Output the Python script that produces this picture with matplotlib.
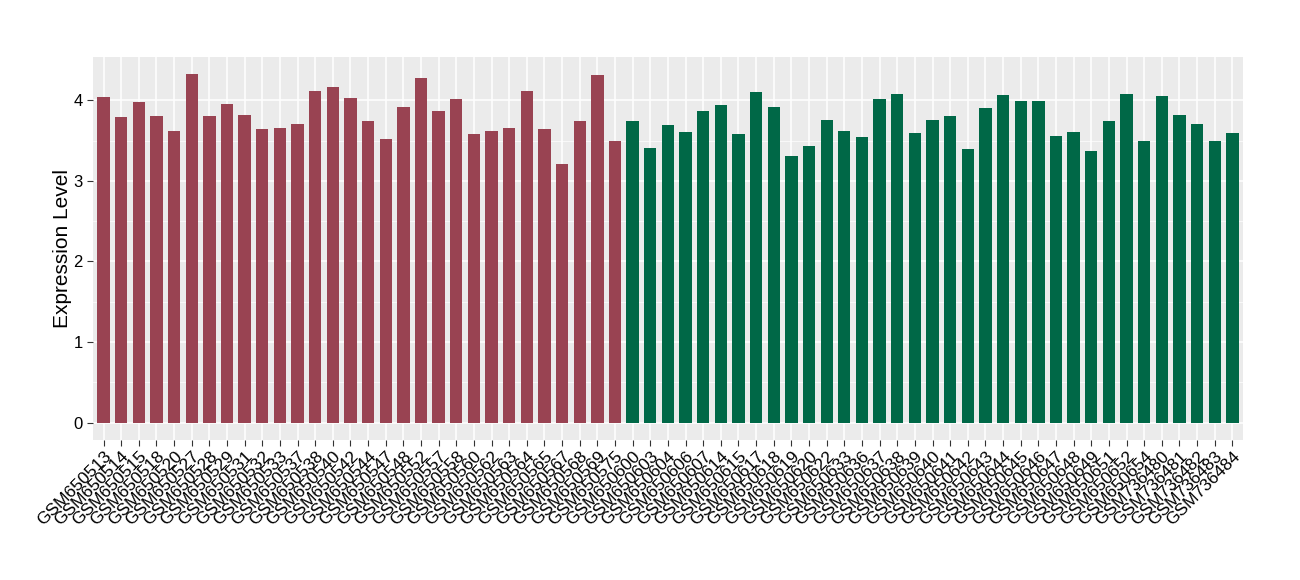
import matplotlib
matplotlib.use("Agg")
import matplotlib.pyplot as plt
import numpy as np

plt.rcParams['font.family'] = ['Liberation Sans', 'DejaVu Sans']

red_labels = ["GSM650513", "GSM650514", "GSM650515", "GSM650518", "GSM650520", "GSM650527",
              "GSM650528", "GSM650529", "GSM650531", "GSM650532", "GSM650533", "GSM650537",
              "GSM650538", "GSM650540", "GSM650542", "GSM650544", "GSM650547", "GSM650548",
              "GSM650552", "GSM650557", "GSM650558", "GSM650560", "GSM650562", "GSM650563",
              "GSM650564", "GSM650565", "GSM650567", "GSM650568", "GSM650569", "GSM650575"]
red_values = [4.04, 3.79, 3.98, 3.80, 3.62, 4.32, 3.80, 3.95, 3.82, 3.64,
              3.66, 3.70, 4.12, 4.17, 4.03, 3.74, 3.52, 3.92, 4.27, 3.86,
              4.01, 3.58, 3.62, 3.66, 4.11, 3.64, 3.21, 3.74, 4.31, 3.49]

green_labels = ["GSM650600", "GSM650603", "GSM650604", "GSM650606", "GSM650607", "GSM650614",
                "GSM650615", "GSM650617", "GSM650618", "GSM650619", "GSM650620", "GSM650622",
                "GSM650633", "GSM650636", "GSM650637", "GSM650638", "GSM650639", "GSM650640",
                "GSM650641", "GSM650642", "GSM650643", "GSM650644", "GSM650645", "GSM650646",
                "GSM650647", "GSM650648", "GSM650649", "GSM650651", "GSM650652", "GSM650654",
                "GSM736480", "GSM736481", "GSM736482", "GSM736483", "GSM736484"]
green_values = [3.74, 3.41, 3.69, 3.60, 3.86, 3.94, 3.58, 4.10, 3.92, 3.31,
                3.43, 3.75, 3.62, 3.54, 4.02, 4.08, 3.59, 3.76, 3.80, 3.39,
                3.90, 4.06, 3.99, 3.99, 3.56, 3.60, 3.37, 3.74, 4.08, 3.49,
                4.05, 3.82, 3.70, 3.50, 3.59]

red_color = "#994352"
green_color = "#006847"

labels = red_labels + green_labels
values = red_values + green_values
colors = [red_color] * len(red_values) + [green_color] * len(green_values)
x = np.arange(len(labels))

fig = plt.figure(figsize=(13, 5.8), dpi=100)
ax = fig.add_axes([0.0715, 0.2414, 0.8846, 0.6603])
ax.set_facecolor("#EBEBEB")

ax.bar(x, values, width=0.7, color=colors, zorder=3)

ymax = max(values)
ax.set_xlim(-0.6, len(labels) - 0.4)
ax.set_ylim(-0.05 * ymax, ymax * 1.05)
ax.set_yticks([0, 1, 2, 3, 4])
ax.set_yticks([0.5, 1.5, 2.5, 3.5], minor=True)
ax.set_xticks(x)
ax.set_xticklabels(labels, rotation=45, ha="right", rotation_mode="anchor", fontsize=12.5)

ax.grid(which="major", color="white", linewidth=1.1, zorder=0)
ax.grid(which="minor", axis="y", color="white", linewidth=0.5, zorder=0)
ax.set_axisbelow(True)
for s in ax.spines.values():
    s.set_visible(False)
ax.tick_params(axis="both", which="major", color="#333333", length=4, width=0.8,
               labelsize=12, labelcolor="black")
ax.tick_params(axis="x", labelsize=12.5, pad=2)
ax.tick_params(axis="y", which="minor", length=0)
ax.set_ylabel("Expression Level", fontsize=15, labelpad=0.5)

fig.savefig("out.png", dpi=100)
